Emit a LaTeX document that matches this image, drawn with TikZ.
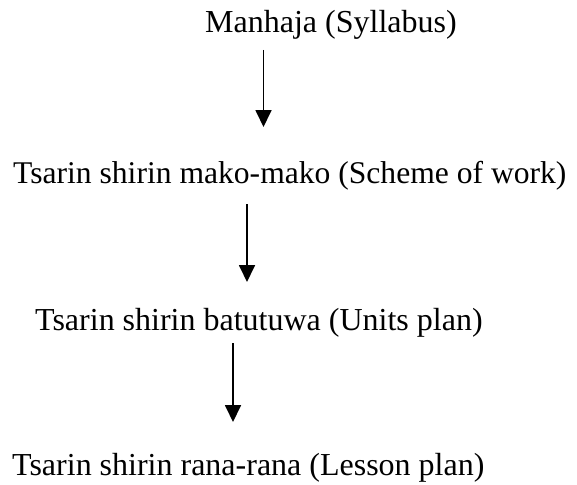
\documentclass[tikz,border=0pt]{standalone}
\usepackage{fontspec}
\setmainfont{Liberation Serif}
\usetikzlibrary{arrows.meta}
\begin{document}
\begin{tikzpicture}[x=1pt,y=-1pt,
  lbl/.style={anchor=base west,inner sep=0pt,font=\fontsize{32}{38}\selectfont},
  arr/.style={line width=1.8pt,-{Triangle[length=17pt,width=16pt]}}]
\useasboundingbox (0,0) rectangle (577,484);
\node[lbl] (l1) at (205,33) {Manhaja (Syllabus)};
\node[lbl,font=\fontsize{31.6}{38}\selectfont] (l2) at (13,183) {Tsarin shirin mako-mako (Scheme of work)};
\node[lbl] (l3) at (35,330) {Tsarin shirin batutuwa (Units plan)};
\node[lbl] (l4) at (12,475) {Tsarin shirin rana-rana (Lesson plan)};
\coordinate (a1s) at (263.5,50);  \coordinate (a1e) at (263.5,127);
\coordinate (a2s) at (247,204);   \coordinate (a2e) at (247,282);
\coordinate (a3s) at (233,343);   \coordinate (a3e) at (233,422);
\draw[arr] (a1s) -- (a1e);
\draw[arr] (a2s) -- (a2e);
\draw[arr] (a3s) -- (a3e);
\end{tikzpicture}
\end{document}
